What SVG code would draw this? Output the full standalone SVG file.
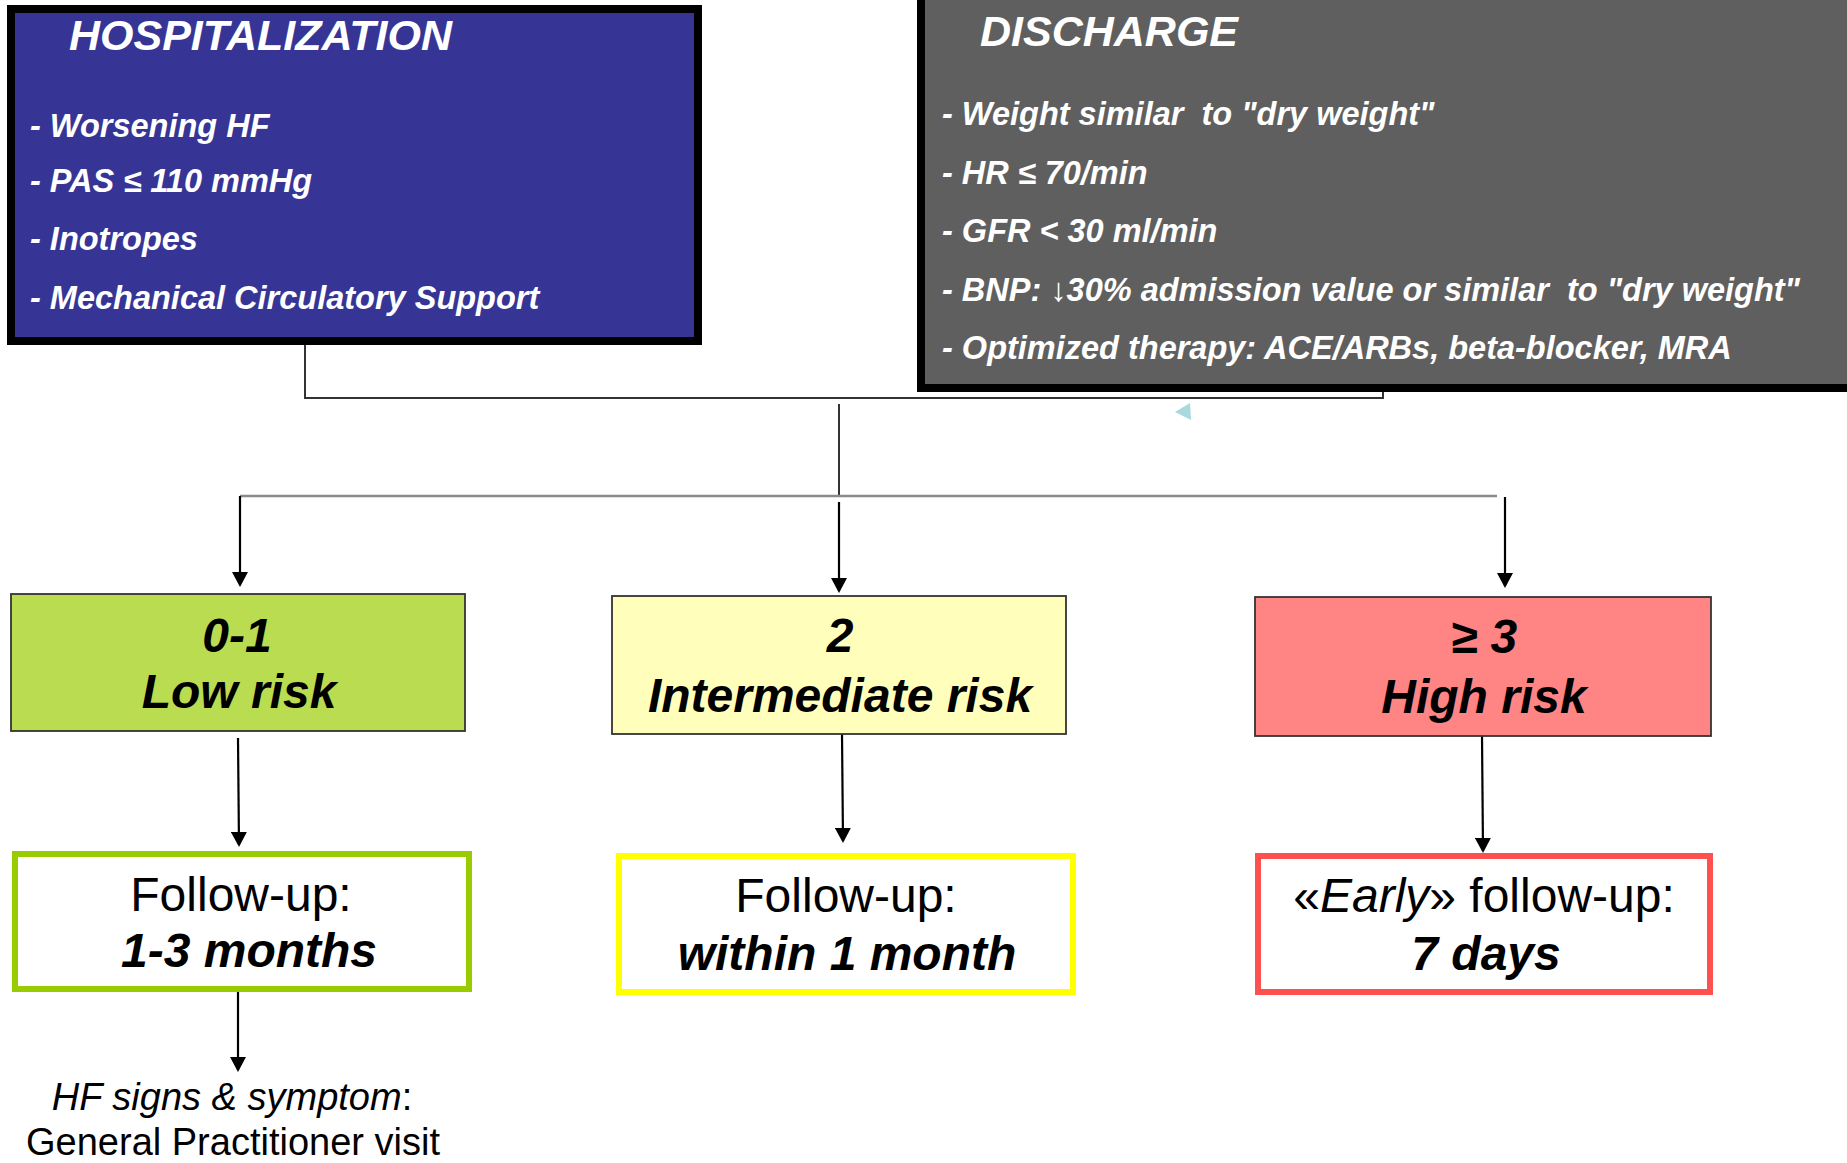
<svg xmlns="http://www.w3.org/2000/svg" width="1847" height="1163" viewBox="0 0 1847 1163">
  <style>
    text { font-family: "Liberation Sans", Arial, sans-serif; }
    .head { font-size: 43px; font-weight: bold; font-style: italic; fill: #ffffff; }
    .bullet { font-size: 32.5px; font-weight: bold; font-style: italic; fill: #ffffff; white-space: pre; }
    .risk { font-size: 48px; font-weight: bold; font-style: italic; fill: #000000; text-anchor: middle; }
    .fu { font-size: 48px; fill: #000000; text-anchor: middle; }
    .fub { font-size: 48px; font-weight: bold; font-style: italic; fill: #000000; text-anchor: middle; }
    .note { font-size: 38px; fill: #000000; text-anchor: middle; }
    .conn { fill: none; stroke: #333333; stroke-width: 2; }
    .branch { fill: none; stroke: #8a8a8a; stroke-width: 2.5; }
    .arrow { fill: none; stroke: #000000; stroke-width: 2.2; marker-end: url(#head); }
    .riskbox { stroke: #333333; stroke-width: 1.8; }
    .fubox { fill: #ffffff; stroke-width: 6; }
  </style>
  <defs>
    <marker id="head" markerUnits="userSpaceOnUse" viewBox="0 0 15 16" markerWidth="15" markerHeight="16" refX="13" refY="8" orient="auto">
      <path d="M0,0 L15,8 L0,16 z" fill="#000000"/>
    </marker>
  </defs>

  <rect width="1847" height="1163" fill="#ffffff"/>

  <!-- connectors -->
  <g id="connectors">
    <!-- join of the two top boxes -->
    <path class="conn" d="M305,345 V398 H1383 V390"/>
    <line class="conn" x1="839" y1="404" x2="839" y2="497" stroke-width="1.6"/>
    <!-- branch to the three risk classes -->
    <line class="branch" x1="240" y1="496" x2="1497" y2="496"/>
    <line class="arrow" x1="240" y1="496" x2="240" y2="585"/>
    <line class="arrow" x1="839" y1="502" x2="839" y2="591"/>
    <line class="arrow" x1="1505" y1="497" x2="1505" y2="586"/>
    <!-- risk class to follow-up -->
    <line class="arrow" x1="238" y1="738" x2="239" y2="845"/>
    <line class="arrow" x1="842" y1="734" x2="843" y2="841"/>
    <line class="arrow" x1="1482" y1="735" x2="1483" y2="851"/>
    <!-- follow-up to GP visit -->
    <line class="arrow" x1="238" y1="992" x2="238" y2="1070"/>
    <!-- small pointer below the discharge box -->
    <polygon points="1175,412 1190,403 1191,420" fill="#a9d9dd"/>
  </g>

  <!-- hospitalization criteria -->
  <g id="hospitalization">
    <rect x="11" y="9" width="687" height="332" fill="#363596" stroke="#000000" stroke-width="8"/>
    <text class="head" x="69" y="50">HOSPITALIZATION</text>
    <text class="bullet" x="30" y="137">- Worsening HF</text>
    <text class="bullet" x="30" y="192">- PAS ≤ 110 mmHg</text>
    <text class="bullet" x="30" y="250">- Inotropes</text>
    <text class="bullet" x="30" y="309">- Mechanical Circulatory Support</text>
  </g>

  <!-- discharge criteria -->
  <g id="discharge">
    <rect x="921" y="-10" width="940" height="398" fill="#5f5f5f" stroke="#000000" stroke-width="8"/>
    <text class="head" x="980" y="46">DISCHARGE</text>
    <text class="bullet" x="942" y="125">- Weight similar  to "dry weight"</text>
    <text class="bullet" x="942" y="184">- HR ≤ 70/min</text>
    <text class="bullet" x="942" y="242">- GFR &lt; 30 ml/min</text>
    <text class="bullet" x="942" y="301">- BNP: <tspan font-weight="normal" font-style="normal">↓</tspan>30% admission value or similar  to "dry weight"</text>
    <text class="bullet" x="942" y="359">- Optimized therapy: ACE/ARBs, beta-blocker, MRA</text>
  </g>

  <!-- risk classes -->
  <g id="risk-low">
    <rect class="riskbox" x="11" y="594" width="454" height="137" fill="#b9dc50"/>
    <text class="risk" x="237" y="652">0-1</text>
    <text class="risk" x="239" y="708">Low risk</text>
  </g>
  <g id="risk-intermediate">
    <rect class="riskbox" x="612" y="596" width="454" height="138" fill="#ffffbb"/>
    <text class="risk" x="840" y="652">2</text>
    <text class="risk" x="840" y="712">Intermediate risk</text>
  </g>
  <g id="risk-high">
    <rect class="riskbox" x="1255" y="597" width="456" height="139" fill="#ff8484"/>
    <text class="risk" x="1484" y="653">≥ 3</text>
    <text class="risk" x="1484" y="713">High risk</text>
  </g>

  <!-- follow-up schedules -->
  <g id="followup-low">
    <rect class="fubox" x="15" y="854" width="454" height="135" stroke="#99cc00"/>
    <text class="fu" x="241" y="911">Follow-up:</text>
    <text class="fub" x="249" y="967">1-3 months</text>
  </g>
  <g id="followup-intermediate">
    <rect class="fubox" x="619" y="856" width="454" height="136" stroke="#ffff00"/>
    <text class="fu" x="846" y="912">Follow-up:</text>
    <text class="fub" x="847" y="970">within 1 month</text>
  </g>
  <g id="followup-high">
    <rect class="fubox" x="1258" y="856" width="452" height="136" stroke="#ff5050"/>
    <text class="fu" x="1484" y="912">«<tspan font-style="italic">Early</tspan>» follow-up:</text>
    <text class="fub" x="1486" y="970">7 days</text>
  </g>

  <!-- GP visit note -->
  <g id="gp-visit">
    <text class="note" x="232" y="1110"><tspan font-style="italic">HF signs &amp; symptom</tspan>:</text>
    <text class="note" x="233" y="1155">General Practitioner visit</text>
  </g>
</svg>
